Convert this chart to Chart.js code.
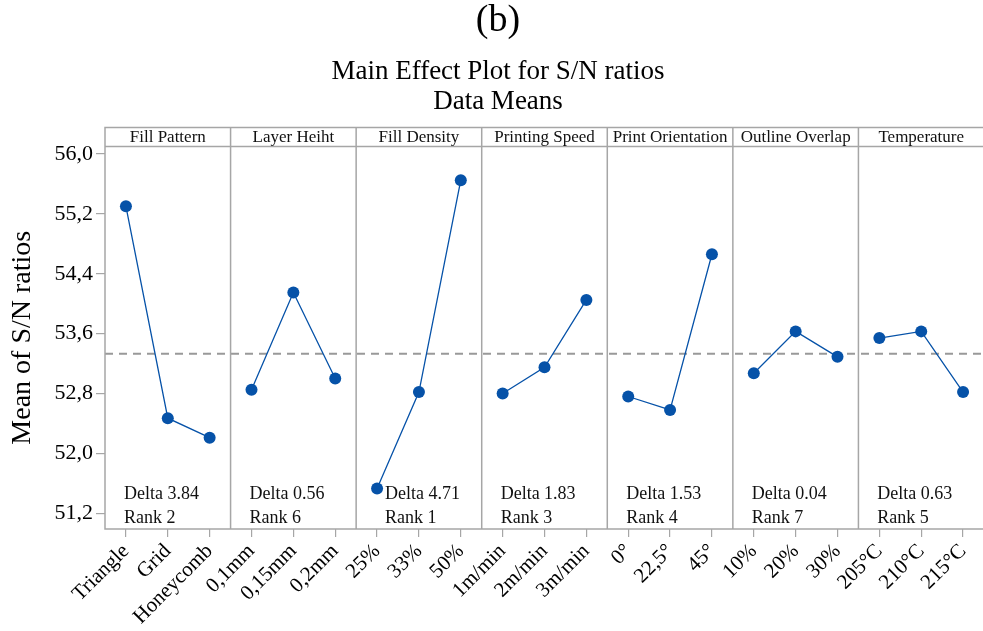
<!DOCTYPE html>
<html>
<head>
<meta charset="utf-8">
<script src="https://cdn.jsdelivr.net/npm/chart.js@4"></script>
<style>
  html, body { margin: 0; padding: 0; background: #fff; overflow: hidden; }
  #clip { position: relative; width: 983px; height: 631px; overflow: hidden; }
  #myChart { position: absolute; left: 0; top: 0; }
</style>
</head>
<body>
<div id="clip"><canvas id="myChart" width="990" height="631"></canvas></div>
<script>
// factors (panels) and their levels
const factors = ['Fill Pattern', 'Layer Heiht', 'Fill Density', 'Printing Speed', 'Print Orientation', 'Outline Overlap', 'Temperature'];
const levels = [
  ['Triangle', 'Grid', 'Honeycomb'],
  ['0,1mm', '0,15mm', '0,2mm'],
  ['25%', '33%', '50%'],
  ['1m/min', '2m/min', '3m/min'],
  ['0°', '22,5°', '45°'],
  ['10%', '20%', '30%'],
  ['205°C', '210°C', '215°C']
];
// mean of S/N ratios for each level
const snMeans = [
  [55.30, 52.47, 52.21],
  [52.85, 54.15, 53.00],
  [51.53, 52.82, 55.65],
  [52.80, 53.15, 54.05],
  [52.76, 52.58, 54.66],
  [53.07, 53.63, 53.29],
  [53.54, 53.63, 52.82]
];
const deltas = ['3.84', '0.56', '4.71', '1.83', '1.53', '0.04', '0.63'];
const ranks = ['2', '6', '1', '3', '4', '7', '5'];
const yTicks = [51.2, 52.0, 52.8, 53.6, 54.4, 55.2, 56.0];

const FONT = "'Liberation Serif', 'Times New Roman', serif";
const BLUE = '#0652a8';
const FRAME = '#a6a6a6';

const labels = levels.flat();
const allVals = snMeans.flat();
const grandMean = allVals.reduce((a, b) => a + b, 0) / allVals.length;

// one dataset per factor, nulls outside its panel
const datasets = snMeans.map((vals, k) => {
  const data = labels.map(() => null);
  vals.forEach((v, i) => { data[k * 3 + i] = v; });
  return {
    label: factors[k],
    data: data,
    borderColor: BLUE,
    backgroundColor: BLUE,
    borderWidth: 1.3,
    pointRadius: 6,
    pointHoverRadius: 6,
    pointBorderWidth: 0,
    spanGaps: false,
    tension: 0
  };
});

// frame (open on the right, like the cropped source), header strip,
// panel dividers, mean line and delta/rank notes
const panels = {
  id: 'panels',
  beforeDatasetsDraw(chart) {
    const { ctx, chartArea: a, scales: { x, y } } = chart;
    const headTop = a.top - 19;
    ctx.save();
    // reference line
    const ym = y.getPixelForValue(grandMean);
    ctx.strokeStyle = '#999';
    ctx.lineWidth = 2;
    ctx.setLineDash([8, 6]);
    ctx.beginPath();
    ctx.moveTo(a.left, ym);
    ctx.lineTo(a.right, ym);
    ctx.stroke();
    ctx.setLineDash([]);

    ctx.strokeStyle = FRAME;
    ctx.lineWidth = 1.5;
    ctx.beginPath();
    ctx.moveTo(a.right, headTop);
    ctx.lineTo(a.left, headTop);
    ctx.lineTo(a.left, a.bottom);
    ctx.lineTo(a.right, a.bottom);
    ctx.moveTo(a.left, a.top);
    ctx.lineTo(a.right, a.top);
    for (let k = 1; k < factors.length; k++) {
      const xd = (x.getPixelForValue(k * 3 - 1) + x.getPixelForValue(k * 3)) / 2;
      ctx.moveTo(xd, headTop);
      ctx.lineTo(xd, a.bottom);
    }
    ctx.stroke();

    ctx.fillStyle = '#111';
    ctx.textBaseline = 'middle';
    factors.forEach((f, k) => {
      const x0 = x.getPixelForValue(k * 3);
      const x2 = x.getPixelForValue(k * 3 + 2);
      ctx.font = '17px ' + FONT;
      ctx.textAlign = 'center';
      ctx.fillText(f, (x0 + x2) / 2, headTop + 10);
      ctx.font = '18px ' + FONT;
      ctx.textAlign = 'left';
      const tx = x0 - 2 + (k === 2 ? 10 : 0);
      ctx.fillText('Delta ' + deltas[k], tx, a.bottom - 35);
      ctx.fillText('Rank ' + ranks[k], tx, a.bottom - 11);
    });
    ctx.restore();
  }
};

new Chart(document.getElementById('myChart').getContext('2d'), {
  type: 'line',
  data: { labels: labels, datasets: datasets },
  plugins: [panels],
  options: {
    responsive: false,
    animation: false,
    layout: { padding: { top: 0, right: 0, bottom: 0, left: 6 } },
    plugins: {
      legend: { display: false },
      tooltip: { enabled: false },
      title: {
        display: true,
        text: '(b)',
        color: '#000',
        font: { family: FONT, size: 38, weight: 'normal', lineHeight: 1.0 },
        padding: { top: 2, bottom: 17 }
      },
      subtitle: {
        display: true,
        text: ['Main Effect Plot for S/N ratios', 'Data Means'],
        color: '#000',
        font: { family: FONT, size: 27, weight: 'normal', lineHeight: 1.12 },
        padding: { top: 0, bottom: 29 }
      }
    },
    scales: {
      x: {
        type: 'category',
        offset: true,
        afterFit(scale) { scale.height = 102; },
        grid: { display: true, drawOnChartArea: false, offset: false, tickLength: 8, color: FRAME, lineWidth: 1.2 },
        border: { display: false },
        ticks: {
          autoSkip: false,
          minRotation: 45,
          maxRotation: 45,
          color: '#000',
          font: { family: FONT, size: 21 },
          padding: 2
        }
      },
      y: {
        min: 50.99,
        max: 56.1,
        afterBuildTicks(scale) { scale.ticks = yTicks.map(v => ({ value: v })); },
        afterFit(scale) { scale.width = 99; },
        grid: { display: true, drawOnChartArea: false, tickLength: 9, color: FRAME, lineWidth: 1.2 },
        border: { display: false },
        ticks: {
          color: '#000',
          font: { family: FONT, size: 22 },
          padding: 3,
          callback: v => v.toFixed(1).replace('.', ',')
        },
        title: {
          display: true,
          text: 'Mean of S/N ratios',
          color: '#000',
          font: { family: FONT, size: 28 },
          padding: { top: 0, bottom: 4 }
        }
      }
    }
  }
});
</script>
</body>
</html>
